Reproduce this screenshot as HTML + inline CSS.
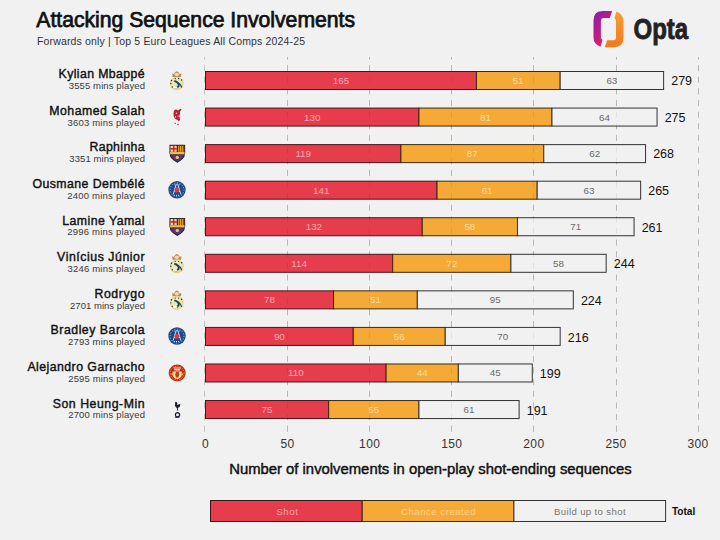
<!DOCTYPE html>
<html><head><meta charset="utf-8"><style>
html,body{margin:0;padding:0;background:#f1f1f1;}
svg{display:block;}
text{font-family:"Liberation Sans",sans-serif;}
.v{font-size:9.8px;}
.tot{font-size:12.5px;fill:#111;}
.nm{font-size:12.3px;fill:#111;stroke:#111;stroke-width:0.4px;}
.mn{font-size:9.5px;fill:#3a3a3a;}
.tk{font-size:12px;fill:#333;letter-spacing:0.4px;}
.ax{font-size:15px;font-weight:normal;fill:#111;stroke:#111;stroke-width:0.45px;}
.lg{font-size:9.6px;}
.ttl{font-size:10px;font-weight:bold;fill:#111;}
.t1{font-size:21.5px;font-weight:normal;fill:#111;stroke:#111;stroke-width:0.75px;}
.t2{font-size:10.5px;fill:#333;}
.op{font-size:29px;font-weight:bold;fill:#222;stroke:#222;stroke-width:0.8px;}
</style></head><body>
<svg width="720" height="540" viewBox="0 0 720 540">
<rect x="0" y="0" width="720" height="540" fill="#f1f1f1"/>
<line x1="204.50" y1="431.7" x2="204.50" y2="57" stroke="#c4c4c4" stroke-width="1" stroke-dasharray="6 5.63"/>
<line x1="287.50" y1="431.7" x2="287.50" y2="57" stroke="#c4c4c4" stroke-width="1" stroke-dasharray="6 5.63"/>
<line x1="369.50" y1="431.7" x2="369.50" y2="57" stroke="#c4c4c4" stroke-width="1" stroke-dasharray="6 5.63"/>
<line x1="451.50" y1="431.7" x2="451.50" y2="57" stroke="#c4c4c4" stroke-width="1" stroke-dasharray="6 5.63"/>
<line x1="533.50" y1="431.7" x2="533.50" y2="57" stroke="#c4c4c4" stroke-width="1" stroke-dasharray="6 5.63"/>
<line x1="616.50" y1="431.7" x2="616.50" y2="57" stroke="#c4c4c4" stroke-width="1" stroke-dasharray="6 5.63"/>
<line x1="698.50" y1="431.7" x2="698.50" y2="57" stroke="#c4c4c4" stroke-width="1" stroke-dasharray="6 5.63"/>
<rect x="205.50" y="71.50" width="270.93" height="18.0" fill="#e63d4c" stroke="#4a1419" stroke-width="1"/>
<rect x="476.43" y="71.50" width="83.74" height="18.0" fill="#f5aa37" stroke="#3a2a10" stroke-width="1"/>
<rect x="560.17" y="71.50" width="103.45" height="18.0" fill="#f1f1f1" stroke="#333" stroke-width="1"/>
<text x="340.97" y="84.00" class="v" fill="#f9aab3" text-anchor="middle">165</text>
<text x="518.30" y="84.00" class="v" fill="#fcd9a0" text-anchor="middle">51</text>
<text x="611.89" y="84.00" class="v" fill="#6a6a6a" text-anchor="middle">63</text>
<text x="671.22" y="84.90" class="tot">279</text>
<text x="58.6" y="78.20" class="nm" textLength="86.0" lengthAdjust="spacing">Kylian Mbappé</text>
<text x="68.75" y="89.00" class="mn" textLength="76.2" lengthAdjust="spacing">3555 mins played</text>
<g transform="translate(176.80,80.50)">
<path d="M-4.2,-3.6 L-4.6,-7.2 L-3,-6.2 L-1.5,-8.6 L0,-9.3 L1.5,-8.6 L3,-6.2 L4.6,-7.2 L4.2,-3.6 Z" fill="#b98a5c"/>
<ellipse cx="0" cy="-6" rx="2.2" ry="1.8" fill="#eadcae"/>
<circle cx="0" cy="3" r="6.3" fill="#eee6bc" stroke="#e2cf7e" stroke-width="1.1"/>
<path d="M-2.5,0.5 C0,1 2.5,3 2,5 C1.5,7 -1,7.5 -2,7" fill="none" stroke="#1d4a58" stroke-width="2"/>
<path d="M1,2 C3,3 4.5,5 5,7" fill="none" stroke="#1d4a58" stroke-width="1.3"/>
<circle cx="-5.3" cy="0" r="0.8" fill="#1f3a2a"/>
<circle cx="-6" cy="3" r="0.7" fill="#1f3a2a"/>
<circle cx="-4.5" cy="6.5" r="0.7" fill="#1f3a2a"/>
<circle cx="4.8" cy="-0.5" r="0.8" fill="#1f3a2a"/>
<circle cx="-1.5" cy="-1.8" r="0.6" fill="#1f3a2a"/>
<circle cx="1.8" cy="-1.8" r="0.6" fill="#1f3a2a"/>
<ellipse cx="-1.5" cy="7" rx="2" ry="1.3" fill="#f6f6f2"/>
</g>
<rect x="205.50" y="108.06" width="213.46" height="18.0" fill="#e63d4c" stroke="#4a1419" stroke-width="1"/>
<rect x="418.96" y="108.06" width="133.00" height="18.0" fill="#f5aa37" stroke="#3a2a10" stroke-width="1"/>
<rect x="551.96" y="108.06" width="105.09" height="18.0" fill="#f1f1f1" stroke="#333" stroke-width="1"/>
<text x="312.23" y="120.56" class="v" fill="#f9aab3" text-anchor="middle">130</text>
<text x="485.46" y="120.56" class="v" fill="#fcd9a0" text-anchor="middle">81</text>
<text x="604.51" y="120.56" class="v" fill="#6a6a6a" text-anchor="middle">64</text>
<text x="664.65" y="121.56" class="tot">275</text>
<text x="49.3" y="114.80" class="nm" textLength="95.3" lengthAdjust="spacing">Mohamed Salah</text>
<text x="67.4" y="125.60" class="mn" textLength="77.6" lengthAdjust="spacing">3603 mins played</text>
<g transform="translate(177.00,117.06)">
<path d="M-2.8,-6.5 C-1.8,-8 0,-7.8 1,-6.5 L3.3,-8.3 L4.6,-7.6 L2.9,-5.3 C3.4,-3.9 3.1,-2.4 2.2,-1.1 L3,1.8 C3.3,3.3 2.4,4 1.2,4 L0.4,2.7 C-1.1,2.7 -3,1.1 -3.3,-1.4 C-3.6,-3.4 -3.5,-5.3 -2.8,-6.5 Z" fill="#a80c24" fill-opacity="0.9"/>
<circle cx="-1.8" cy="6.3" r="0.7" fill="#a80c24"/><circle cx="1" cy="7.5" r="0.7" fill="#a80c24"/>
<circle cx="-0.5" cy="-3.8" r="0.8" fill="#f2dde0"/>
<circle cx="-1.5" cy="0" r="0.7" fill="#f2dde0"/>
<circle cx="1.2" cy="-1" r="0.6" fill="#f2dde0"/>
</g>
<rect x="205.50" y="144.62" width="195.40" height="18.0" fill="#e63d4c" stroke="#4a1419" stroke-width="1"/>
<rect x="400.90" y="144.62" width="142.85" height="18.0" fill="#f5aa37" stroke="#3a2a10" stroke-width="1"/>
<rect x="543.75" y="144.62" width="101.80" height="18.0" fill="#f1f1f1" stroke="#333" stroke-width="1"/>
<text x="303.20" y="157.12" class="v" fill="#f9aab3" text-anchor="middle">119</text>
<text x="472.32" y="157.12" class="v" fill="#fcd9a0" text-anchor="middle">87</text>
<text x="594.65" y="157.12" class="v" fill="#6a6a6a" text-anchor="middle">62</text>
<text x="653.16" y="158.22" class="tot">268</text>
<text x="89.5" y="151.40" class="nm" textLength="55.1" lengthAdjust="spacing">Raphinha</text>
<text x="69.3" y="162.20" class="mn" textLength="75.7" lengthAdjust="spacing">3351 mins played</text>
<g transform="translate(177.30,153.62)">
<path d="M-7.8,-8.8 L7.8,-8.8 L7.9,-0.8 L7,3.5 C5,6.5 2,8 0,9.2 C-2,8 -5,6.5 -7,3.5 L-7.9,-0.8 Z" fill="#2a2030"/>
<rect x="-6.8" y="-7.8" width="6.2" height="6" fill="#f2e2a8"/>
<rect x="-4.4" y="-7.8" width="1.6" height="6" fill="#d8202a"/>
<rect x="-6.8" y="-5.6" width="6.2" height="1.6" fill="#d8202a"/>
<rect x="0.6" y="-7.8" width="6.2" height="6" fill="#e8b830"/>
<rect x="1.4" y="-7.8" width="1.3" height="6" fill="#c83018"/>
<rect x="3.6" y="-7.8" width="1.3" height="6" fill="#c83018"/>
<rect x="5.7" y="-7.8" width="1.1" height="6" fill="#c83018"/>
<rect x="-7.2" y="-1.6" width="14.4" height="2.4" fill="#f0c040"/>
<path d="M-6.5,1 L6.5,1 L6,3.5 C4.5,5.8 2,7 0,8 C-2,7 -4.5,5.8 -6,3.5 Z" fill="#3a3a8c"/>
<rect x="-3.5" y="1" width="1.5" height="5" fill="#8a2850"/>
<rect x="2" y="1" width="1.5" height="5" fill="#8a2850"/>
<circle cx="0" cy="3.8" r="1.7" fill="#e8c060"/>
</g>
<rect x="205.50" y="181.18" width="231.52" height="18.0" fill="#e63d4c" stroke="#4a1419" stroke-width="1"/>
<rect x="437.02" y="181.18" width="100.16" height="18.0" fill="#f5aa37" stroke="#3a2a10" stroke-width="1"/>
<rect x="537.18" y="181.18" width="103.45" height="18.0" fill="#f1f1f1" stroke="#333" stroke-width="1"/>
<text x="321.26" y="193.68" class="v" fill="#f9aab3" text-anchor="middle">141</text>
<text x="487.10" y="193.68" class="v" fill="#fcd9a0" text-anchor="middle">61</text>
<text x="588.91" y="193.68" class="v" fill="#6a6a6a" text-anchor="middle">63</text>
<text x="648.23" y="194.88" class="tot">265</text>
<text x="32.4" y="188.00" class="nm" textLength="112.2" lengthAdjust="spacing">Ousmane Dembélé</text>
<text x="67.2" y="198.80" class="mn" textLength="77.8" lengthAdjust="spacing">2400 mins played</text>
<g transform="translate(177.00,189.78)">
<circle cx="0" cy="0" r="8.7" fill="#1b4b8e"/>
<circle cx="0" cy="0" r="6.9" fill="none" stroke="#c8dcf0" stroke-width="0.9" stroke-dasharray="0.9 1.8"/>
<path d="M-0.6,-6 L-3.8,4.5 M0.6,-6 L3.8,4.5 M-2.8,1.5 L2.8,1.5 M-2.2,-1.5 L2.2,-1.5" stroke="#e4ecf6" stroke-width="0.9" fill="none"/>
<ellipse cx="0" cy="0.3" rx="2.3" ry="2.6" fill="#d43a4a"/>
<path d="M-3,5.5 L3,5.5" stroke="#dfe8f2" stroke-width="0.9" stroke-dasharray="1 1"/>
<path d="M-1.6,-4.5 L-2.8,-5.2 M1.6,-4.5 L2.8,-5.2" stroke="#dfe8f2" stroke-width="0.8"/>
</g>
<rect x="205.50" y="217.74" width="216.74" height="18.0" fill="#e63d4c" stroke="#4a1419" stroke-width="1"/>
<rect x="422.24" y="217.74" width="95.24" height="18.0" fill="#f5aa37" stroke="#3a2a10" stroke-width="1"/>
<rect x="517.48" y="217.74" width="116.58" height="18.0" fill="#f1f1f1" stroke="#333" stroke-width="1"/>
<text x="313.87" y="230.24" class="v" fill="#f9aab3" text-anchor="middle">132</text>
<text x="469.86" y="230.24" class="v" fill="#fcd9a0" text-anchor="middle">58</text>
<text x="575.77" y="230.24" class="v" fill="#6a6a6a" text-anchor="middle">71</text>
<text x="641.66" y="231.54" class="tot">261</text>
<text x="62.3" y="224.60" class="nm" textLength="82.3" lengthAdjust="spacing">Lamine Yamal</text>
<text x="67.2" y="235.40" class="mn" textLength="77.8" lengthAdjust="spacing">2996 mins played</text>
<g transform="translate(177.30,226.74)">
<path d="M-7.8,-8.8 L7.8,-8.8 L7.9,-0.8 L7,3.5 C5,6.5 2,8 0,9.2 C-2,8 -5,6.5 -7,3.5 L-7.9,-0.8 Z" fill="#2a2030"/>
<rect x="-6.8" y="-7.8" width="6.2" height="6" fill="#f2e2a8"/>
<rect x="-4.4" y="-7.8" width="1.6" height="6" fill="#d8202a"/>
<rect x="-6.8" y="-5.6" width="6.2" height="1.6" fill="#d8202a"/>
<rect x="0.6" y="-7.8" width="6.2" height="6" fill="#e8b830"/>
<rect x="1.4" y="-7.8" width="1.3" height="6" fill="#c83018"/>
<rect x="3.6" y="-7.8" width="1.3" height="6" fill="#c83018"/>
<rect x="5.7" y="-7.8" width="1.1" height="6" fill="#c83018"/>
<rect x="-7.2" y="-1.6" width="14.4" height="2.4" fill="#f0c040"/>
<path d="M-6.5,1 L6.5,1 L6,3.5 C4.5,5.8 2,7 0,8 C-2,7 -4.5,5.8 -6,3.5 Z" fill="#3a3a8c"/>
<rect x="-3.5" y="1" width="1.5" height="5" fill="#8a2850"/>
<rect x="2" y="1" width="1.5" height="5" fill="#8a2850"/>
<circle cx="0" cy="3.8" r="1.7" fill="#e8c060"/>
</g>
<rect x="205.50" y="254.30" width="187.19" height="18.0" fill="#e63d4c" stroke="#4a1419" stroke-width="1"/>
<rect x="392.69" y="254.30" width="118.22" height="18.0" fill="#f5aa37" stroke="#3a2a10" stroke-width="1"/>
<rect x="510.91" y="254.30" width="95.24" height="18.0" fill="#f1f1f1" stroke="#333" stroke-width="1"/>
<text x="299.09" y="266.80" class="v" fill="#f9aab3" text-anchor="middle">114</text>
<text x="451.80" y="266.80" class="v" fill="#fcd9a0" text-anchor="middle">72</text>
<text x="558.53" y="266.80" class="v" fill="#6a6a6a" text-anchor="middle">58</text>
<text x="613.75" y="268.20" class="tot">244</text>
<text x="57.1" y="261.20" class="nm" textLength="87.5" lengthAdjust="spacing">Vinícius Júnior</text>
<text x="67.4" y="272.00" class="mn" textLength="77.6" lengthAdjust="spacing">3246 mins played</text>
<g transform="translate(176.80,263.30)">
<path d="M-4.2,-3.6 L-4.6,-7.2 L-3,-6.2 L-1.5,-8.6 L0,-9.3 L1.5,-8.6 L3,-6.2 L4.6,-7.2 L4.2,-3.6 Z" fill="#b98a5c"/>
<ellipse cx="0" cy="-6" rx="2.2" ry="1.8" fill="#eadcae"/>
<circle cx="0" cy="3" r="6.3" fill="#eee6bc" stroke="#e2cf7e" stroke-width="1.1"/>
<path d="M-2.5,0.5 C0,1 2.5,3 2,5 C1.5,7 -1,7.5 -2,7" fill="none" stroke="#1d4a58" stroke-width="2"/>
<path d="M1,2 C3,3 4.5,5 5,7" fill="none" stroke="#1d4a58" stroke-width="1.3"/>
<circle cx="-5.3" cy="0" r="0.8" fill="#1f3a2a"/>
<circle cx="-6" cy="3" r="0.7" fill="#1f3a2a"/>
<circle cx="-4.5" cy="6.5" r="0.7" fill="#1f3a2a"/>
<circle cx="4.8" cy="-0.5" r="0.8" fill="#1f3a2a"/>
<circle cx="-1.5" cy="-1.8" r="0.6" fill="#1f3a2a"/>
<circle cx="1.8" cy="-1.8" r="0.6" fill="#1f3a2a"/>
<ellipse cx="-1.5" cy="7" rx="2" ry="1.3" fill="#f6f6f2"/>
</g>
<rect x="205.50" y="290.86" width="128.08" height="18.0" fill="#e63d4c" stroke="#4a1419" stroke-width="1"/>
<rect x="333.58" y="290.86" width="83.74" height="18.0" fill="#f5aa37" stroke="#3a2a10" stroke-width="1"/>
<rect x="417.32" y="290.86" width="155.99" height="18.0" fill="#f1f1f1" stroke="#333" stroke-width="1"/>
<text x="269.54" y="303.36" class="v" fill="#f9aab3" text-anchor="middle">78</text>
<text x="375.45" y="303.36" class="v" fill="#fcd9a0" text-anchor="middle">51</text>
<text x="495.31" y="303.36" class="v" fill="#6a6a6a" text-anchor="middle">95</text>
<text x="580.91" y="304.86" class="tot">224</text>
<text x="94.4" y="297.80" class="nm" textLength="50.2" lengthAdjust="spacing">Rodrygo</text>
<text x="70.0" y="308.60" class="mn" textLength="75.0" lengthAdjust="spacing">2701 mins played</text>
<g transform="translate(176.80,299.86)">
<path d="M-4.2,-3.6 L-4.6,-7.2 L-3,-6.2 L-1.5,-8.6 L0,-9.3 L1.5,-8.6 L3,-6.2 L4.6,-7.2 L4.2,-3.6 Z" fill="#b98a5c"/>
<ellipse cx="0" cy="-6" rx="2.2" ry="1.8" fill="#eadcae"/>
<circle cx="0" cy="3" r="6.3" fill="#eee6bc" stroke="#e2cf7e" stroke-width="1.1"/>
<path d="M-2.5,0.5 C0,1 2.5,3 2,5 C1.5,7 -1,7.5 -2,7" fill="none" stroke="#1d4a58" stroke-width="2"/>
<path d="M1,2 C3,3 4.5,5 5,7" fill="none" stroke="#1d4a58" stroke-width="1.3"/>
<circle cx="-5.3" cy="0" r="0.8" fill="#1f3a2a"/>
<circle cx="-6" cy="3" r="0.7" fill="#1f3a2a"/>
<circle cx="-4.5" cy="6.5" r="0.7" fill="#1f3a2a"/>
<circle cx="4.8" cy="-0.5" r="0.8" fill="#1f3a2a"/>
<circle cx="-1.5" cy="-1.8" r="0.6" fill="#1f3a2a"/>
<circle cx="1.8" cy="-1.8" r="0.6" fill="#1f3a2a"/>
<ellipse cx="-1.5" cy="7" rx="2" ry="1.3" fill="#f6f6f2"/>
</g>
<rect x="205.50" y="327.42" width="147.78" height="18.0" fill="#e63d4c" stroke="#4a1419" stroke-width="1"/>
<rect x="353.28" y="327.42" width="91.95" height="18.0" fill="#f5aa37" stroke="#3a2a10" stroke-width="1"/>
<rect x="445.23" y="327.42" width="114.94" height="18.0" fill="#f1f1f1" stroke="#333" stroke-width="1"/>
<text x="279.39" y="339.92" class="v" fill="#f9aab3" text-anchor="middle">90</text>
<text x="399.26" y="339.92" class="v" fill="#fcd9a0" text-anchor="middle">56</text>
<text x="502.70" y="339.92" class="v" fill="#6a6a6a" text-anchor="middle">70</text>
<text x="567.77" y="341.52" class="tot">216</text>
<text x="50.6" y="334.40" class="nm" textLength="94.0" lengthAdjust="spacing">Bradley Barcola</text>
<text x="68.0" y="345.20" class="mn" textLength="77.0" lengthAdjust="spacing">2793 mins played</text>
<g transform="translate(177.00,336.02)">
<circle cx="0" cy="0" r="8.7" fill="#1b4b8e"/>
<circle cx="0" cy="0" r="6.9" fill="none" stroke="#c8dcf0" stroke-width="0.9" stroke-dasharray="0.9 1.8"/>
<path d="M-0.6,-6 L-3.8,4.5 M0.6,-6 L3.8,4.5 M-2.8,1.5 L2.8,1.5 M-2.2,-1.5 L2.2,-1.5" stroke="#e4ecf6" stroke-width="0.9" fill="none"/>
<ellipse cx="0" cy="0.3" rx="2.3" ry="2.6" fill="#d43a4a"/>
<path d="M-3,5.5 L3,5.5" stroke="#dfe8f2" stroke-width="0.9" stroke-dasharray="1 1"/>
<path d="M-1.6,-4.5 L-2.8,-5.2 M1.6,-4.5 L2.8,-5.2" stroke="#dfe8f2" stroke-width="0.8"/>
</g>
<rect x="205.50" y="363.98" width="180.62" height="18.0" fill="#e63d4c" stroke="#4a1419" stroke-width="1"/>
<rect x="386.12" y="363.98" width="72.25" height="18.0" fill="#f5aa37" stroke="#3a2a10" stroke-width="1"/>
<rect x="458.37" y="363.98" width="73.89" height="18.0" fill="#f1f1f1" stroke="#333" stroke-width="1"/>
<text x="295.81" y="376.48" class="v" fill="#f9aab3" text-anchor="middle">110</text>
<text x="422.24" y="376.48" class="v" fill="#fcd9a0" text-anchor="middle">44</text>
<text x="495.31" y="376.48" class="v" fill="#6a6a6a" text-anchor="middle">45</text>
<text x="539.86" y="378.18" class="tot">199</text>
<text x="27.4" y="371.00" class="nm" textLength="117.2" lengthAdjust="spacing">Alejandro Garnacho</text>
<text x="68.2" y="381.80" class="mn" textLength="76.8" lengthAdjust="spacing">2595 mins played</text>
<g transform="translate(177.20,372.98)">
<circle cx="0" cy="0" r="8.5" fill="#c02a1a"/>
<circle cx="0" cy="0" r="6.9" fill="none" stroke="#f0a838" stroke-width="0.9" stroke-dasharray="1.1 1.4"/>
<path d="M-4.6,-1.6 L4.6,-1.6 L4.4,3 C3.4,5 1.5,5.8 0,6 C-1.5,5.8 -3.4,5 -4.4,3 Z" fill="#f6e490"/>
<path d="M-1.2,-1.2 L1.4,-1 L2.2,1.5 L1,4.6 L-1.2,4.6 L-2,1.5 Z" fill="#c83a1a"/>
<path d="M-3.6,-5.6 L3.6,-5.6 L2.6,-2.6 L-2.6,-2.6 Z" fill="#f6efe0"/>
<path d="M-3,-4.2 L3,-4.2" stroke="#d04020" stroke-width="0.8"/>
<circle cx="-5" cy="1.2" r="1" fill="#e8b840"/>
<circle cx="5" cy="1.2" r="1" fill="#e8b840"/>
</g>
<rect x="205.50" y="400.54" width="123.15" height="18.0" fill="#e63d4c" stroke="#4a1419" stroke-width="1"/>
<rect x="328.65" y="400.54" width="90.31" height="18.0" fill="#f5aa37" stroke="#3a2a10" stroke-width="1"/>
<rect x="418.96" y="400.54" width="100.16" height="18.0" fill="#f1f1f1" stroke="#333" stroke-width="1"/>
<text x="267.07" y="413.04" class="v" fill="#f9aab3" text-anchor="middle">75</text>
<text x="373.80" y="413.04" class="v" fill="#fcd9a0" text-anchor="middle">55</text>
<text x="469.04" y="413.04" class="v" fill="#6a6a6a" text-anchor="middle">61</text>
<text x="526.72" y="414.84" class="tot">191</text>
<text x="52.7" y="407.60" class="nm" textLength="91.9" lengthAdjust="spacing">Son Heung-Min</text>
<text x="68.2" y="418.40" class="mn" textLength="76.8" lengthAdjust="spacing">2700 mins played</text>
<g transform="translate(177.50,409.54)">
<path d="M-2.3,-7.5 L-1.2,-7.8 L0,-6 L-0.8,-4.8 C0.5,-4.5 1.5,-5 2.8,-5.8 C2.8,-4 2.5,-2.5 1,-2 L0.3,-1.5 L0.6,1 L-0.4,1 L-0.6,-1.5 C-1.6,-2 -2.2,-3 -2.5,-4 Z" fill="#161c34"/>
<circle cx="0" cy="5.2" r="2.1" fill="#eef0f4" stroke="#161c34" stroke-width="1.2"/>
<path d="M-2.6,7.6 L2,7.6" stroke="#161c34" stroke-width="1.1"/>
</g>
<line x1="287.50" y1="431.7" x2="287.50" y2="57" stroke="#000" stroke-opacity="0.07" stroke-width="1" stroke-dasharray="6 5.63"/>
<line x1="369.50" y1="431.7" x2="369.50" y2="57" stroke="#000" stroke-opacity="0.07" stroke-width="1" stroke-dasharray="6 5.63"/>
<line x1="451.50" y1="431.7" x2="451.50" y2="57" stroke="#000" stroke-opacity="0.07" stroke-width="1" stroke-dasharray="6 5.63"/>
<line x1="533.50" y1="431.7" x2="533.50" y2="57" stroke="#000" stroke-opacity="0.07" stroke-width="1" stroke-dasharray="6 5.63"/>
<line x1="616.50" y1="431.7" x2="616.50" y2="57" stroke="#000" stroke-opacity="0.07" stroke-width="1" stroke-dasharray="6 5.63"/>
<line x1="698.50" y1="431.7" x2="698.50" y2="57" stroke="#000" stroke-opacity="0.07" stroke-width="1" stroke-dasharray="6 5.63"/>
<text x="205.50" y="447.6" class="tk" text-anchor="middle">0</text>
<text x="287.60" y="447.6" class="tk" text-anchor="middle">50</text>
<text x="369.70" y="447.6" class="tk" text-anchor="middle">100</text>
<text x="451.80" y="447.6" class="tk" text-anchor="middle">150</text>
<text x="533.90" y="447.6" class="tk" text-anchor="middle">200</text>
<text x="616.00" y="447.6" class="tk" text-anchor="middle">250</text>
<text x="698.10" y="447.6" class="tk" text-anchor="middle">300</text>
<text x="229.2" y="474" class="ax" textLength="402.5" lengthAdjust="spacingAndGlyphs">Number of involvements in open-play shot-ending sequences</text>
<rect x="210.50" y="500.5" width="151.70" height="21" fill="#e63d4c" stroke="#3a1418" stroke-width="1"/>
<rect x="362.20" y="500.5" width="151.70" height="21" fill="#f5aa37" stroke="#3a2a10" stroke-width="1"/>
<rect x="513.90" y="500.5" width="151.70" height="21" fill="#f1f1f1" stroke="#333" stroke-width="1"/>
<text x="276.4" y="515" class="lg" fill="#f8a4ad" textLength="21.4" lengthAdjust="spacing">Shot</text>
<text x="401" y="515" class="lg" fill="#fbd193" textLength="74.5" lengthAdjust="spacing">Chance created</text>
<text x="553.9" y="515" class="lg" fill="#777" textLength="71.7" lengthAdjust="spacing">Build up to shot</text>
<text x="671.9" y="515" class="ttl" textLength="23.4" lengthAdjust="spacingAndGlyphs">Total</text>
<text x="36.3" y="27.1" class="t1" textLength="318.7" lengthAdjust="spacingAndGlyphs">Attacking Sequence Involvements</text>
<text x="37" y="44.6" class="t2" textLength="268" lengthAdjust="spacing">Forwards only | Top 5 Euro Leagues All Comps 2024-25</text>
<defs>
<linearGradient id="gl" x1="0" y1="0" x2="0.6" y2="1"><stop offset="0" stop-color="#8c1ca6"/><stop offset="1" stop-color="#e0206c"/></linearGradient>
<linearGradient id="gr" x1="0" y1="0" x2="0" y2="1"><stop offset="0" stop-color="#f5a030"/><stop offset="1" stop-color="#f07a20"/></linearGradient>
</defs>
<path d="M612.1,11.1 L603,11.1 Q593.5,11.1 593.5,20.5 L593.5,37.5 Q593.5,44 600.5,46.8 L602.4,40 Q600.9,39 600.9,37 L600.9,21 Q600.9,18.1 603.5,18.1 L609.8,18.1 Z" fill="url(#gl)"/>
<path d="M604.8,47.2 L613.9,47.2 Q623.4,47.2 623.4,37.8 L623.4,20.8 Q623.4,14.3 616.4,11.5 L614.5,18.3 Q616,19.3 616,21.3 L616,37.3 Q616,40.2 613.4,40.2 L607.1,40.2 Z" fill="url(#gr)"/>
<text x="633.5" y="39.3" class="op" textLength="54.7" lengthAdjust="spacingAndGlyphs">Opta</text>
</svg>
</body></html>
